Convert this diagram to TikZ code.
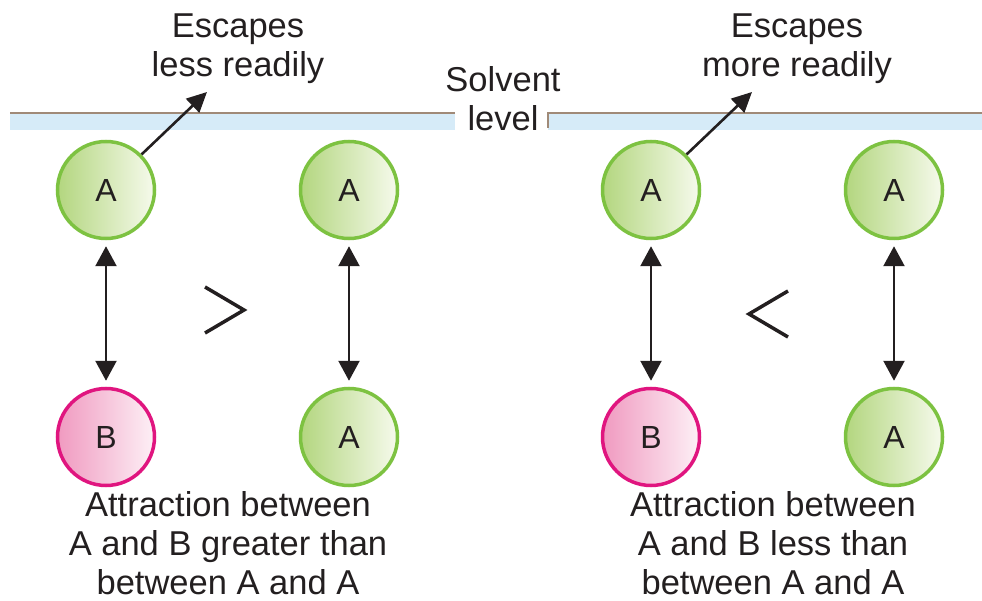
\documentclass[tikz,border=0pt]{standalone}
\usepackage{fontspec}
\setmainfont{Liberation Sans}
\usetikzlibrary{arrows.meta}
\definecolor{gstroke}{HTML}{7DC241}
\definecolor{gdark}{HTML}{B3D67F}
\definecolor{glight}{HTML}{F6FAEC}
\definecolor{pstroke}{HTML}{E0157F}
\definecolor{pdark}{HTML}{F09AC0}
\definecolor{plight}{HTML}{FDF0F6}
\definecolor{band}{HTML}{D6EBF8}
\definecolor{lvl}{HTML}{A08A78}
\definecolor{txt}{HTML}{231F20}
\tikzset{
  amol/.style={circle,minimum size=97pt,inner sep=0pt,draw=gstroke,line width=3.5pt,left color=gdark,right color=glight,font=\fontsize{32}{32}\selectfont,text=txt},
  bmol/.style={circle,minimum size=97pt,inner sep=0pt,draw=pstroke,line width=3.5pt,left color=pdark,right color=plight,font=\fontsize{32}{32}\selectfont,text=txt},
  lbl/.style={align=center,font=\fontsize{34.5}{39}\selectfont,text=txt,inner sep=0pt},
  dbl/.style={{Triangle[length=20pt,width=21pt]}-{Triangle[length=20pt,width=21pt]},line width=2.4pt,txt,shorten <=6pt,shorten >=6pt},
  esc/.style={-{Triangle[length=20pt,width=19pt]},line width=2.6pt,txt},
  cmp/.style={line width=3.5pt,txt,line join=miter}
}
\begin{document}
\begin{tikzpicture}[x=1pt,y=-1pt]
\useasboundingbox (0,0) rectangle (982,601);
% solvent level
\fill[band] (10,113) rectangle (455,130);
\fill[band] (548,113) rectangle (982,130);
\draw[lvl,line width=2pt] (10,113) -- (455,113);
\draw[lvl,line width=2pt] (548,128) -- (548,113) -- (982,113);
\node[lbl] (solv) at (503,99) {Solvent\\level};
% left group
\node[amol] (a1) at (106,190) {A};
\node[amol] (a2) at (349,190) {A};
\node[bmol] (b1) at (106,437) {B};
\node[amol] (a3) at (349,437) {A};
\draw[dbl] (a1) -- (b1);
\draw[dbl] (a2) -- (a3);
\coordinate (e1) at (207,92);
\draw[esc] (a1.45) -- (e1);
\node[lbl] (t1) at (238,49) {Escapes\\less readily};
\node[lbl] (t2) at (228,543) {Attraction between\\A and B greater than\\between A and A};
\coordinate (g1) at (205,287);
\coordinate (g2) at (244,310);
\coordinate (g3) at (205,333);
\draw[cmp] (g1) -- (g2) -- (g3);
% right group
\node[amol] (a4) at (651,190) {A};
\node[amol] (a5) at (894,190) {A};
\node[bmol] (b2) at (651,437) {B};
\node[amol] (a6) at (894,437) {A};
\draw[dbl] (a4) -- (b2);
\draw[dbl] (a5) -- (a6);
\coordinate (e2) at (752,92);
\draw[esc] (a4.45) -- (e2);
\node[lbl] (t3) at (797,49) {Escapes\\more readily};
\node[lbl] (t4) at (773,543) {Attraction between\\A and B less than\\between A and A};
\coordinate (l1) at (788,291);
\coordinate (l2) at (749,314);
\coordinate (l3) at (788,337);
\draw[cmp] (l1) -- (l2) -- (l3);
\end{tikzpicture}
\end{document}
